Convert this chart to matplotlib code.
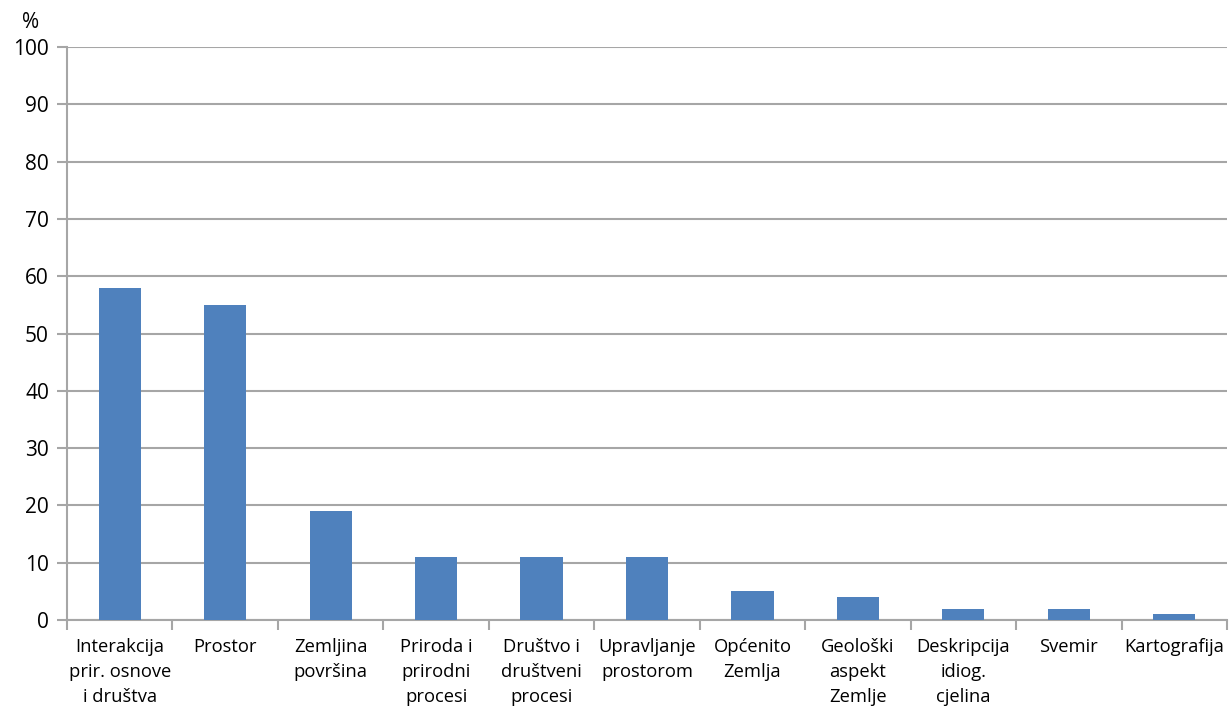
import matplotlib
matplotlib.use('Agg')
import matplotlib.pyplot as plt
import numpy as np

plt.rcParams['font.family'] = ['Open Sans', 'DejaVu Sans']

# share of topics (%)
categories = ['Interakcija\nprir. osnove\ni društva', 'Prostor', 'Zemljina\npovršina',
              'Priroda i\nprirodni\nprocesi', 'Društvo i\ndruštveni\nprocesi',
              'Upravljanje\nprostorom', 'Općenito\nZemlja', 'Geološki\naspekt\nZemlje',
              'Deskripcija\nidiog.\ncjelina', 'Svemir', 'Kartografija']
values = [58, 55, 19, 11, 11, 11, 5, 4, 2, 2, 1]
yticks = list(range(0, 101, 10))

barcol = '#4F81BD'
gridcol = '#A6A6A6'

fig = plt.figure(figsize=(12.31, 7.06), dpi=100)
ax = fig.add_axes([67/1231, 1-620/706, (1227-67)/1231, (620-47)/706])

x = np.arange(len(categories))
ax.bar(x, values, width=0.4, color=barcol, zorder=3)

ax.set_xlim(-0.5, len(categories)-0.5)
ax.set_ylim(0, 100)
ax.set_yticks(yticks)
ax.yaxis.grid(True, color=gridcol, linewidth=1.5, zorder=0)

# category ticks sit between the bars
ax.set_xticks(np.arange(len(categories)+1) - 0.5)
ax.set_xticklabels([])
ax.set_xticks(x, minor=True)
ax.set_xticklabels(categories, minor=True, fontsize=13.2, linespacing=1.5)
ax.tick_params(axis='x', which='minor', length=0, pad=13)
ax.tick_params(axis='x', which='major', length=7, width=1.5, color=gridcol)
ax.tick_params(axis='y', length=7, width=1.5, color=gridcol, labelsize=15, pad=6)

for s in ['top', 'right']:
    ax.spines[s].set_visible(False)
for s in ['left', 'bottom']:
    ax.spines[s].set_color(gridcol)
    ax.spines[s].set_linewidth(1.5)

fig.text(31/1231, 1-22/706, '%', fontsize=15, ha='center', va='center')

fig.savefig('out.png', dpi=100)
